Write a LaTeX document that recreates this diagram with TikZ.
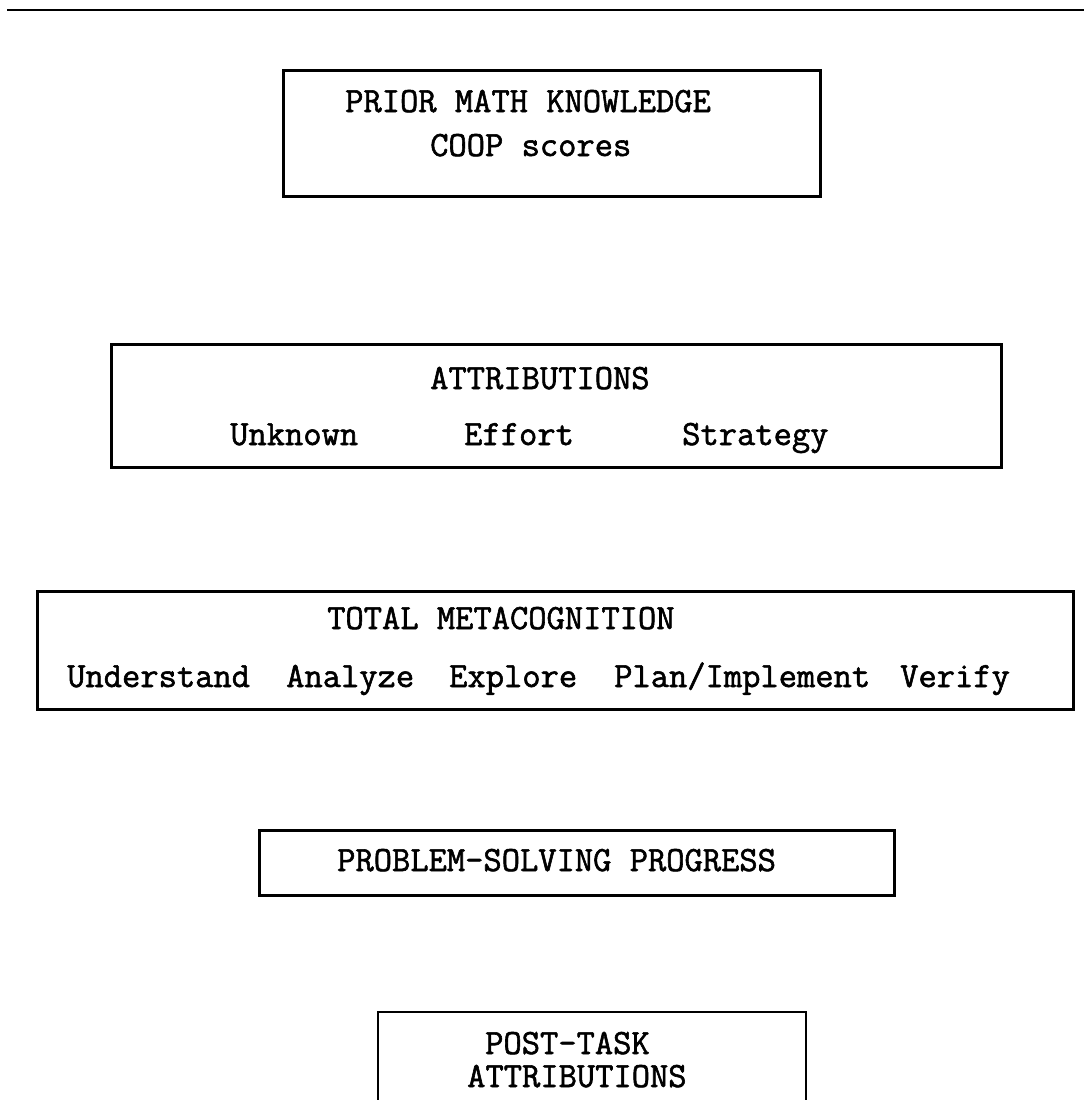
\documentclass[tikz,border=0pt]{standalone}
\usepackage{fontspec}
\newfontfamily\twfont{Latin Modern Mono}[AutoFakeBold=1.6]
\begin{document}
\begin{tikzpicture}[x=1pt,y=-1pt,
  txt/.style={anchor=base west,inner sep=0pt,font=\twfont\bfseries\fontsize{35.5}{37}\selectfont},
  frame/.style={draw=black,line width=2.5pt}]
\useasboundingbox (0,0) rectangle (1084,1100);
% top rule
\coordinate (rl) at (7,10);
\coordinate (rr) at (1084,10);
\draw[frame] (rl) -- (rr);
% box 1
\node[frame,minimum width=537pt,minimum height=126pt,anchor=north west,inner sep=0pt] (b1) at (282,69) {};
\node[txt] (t1a) at (345,112) {PRIOR MATH KNOWLEDGE};
\node[txt] (t1b) at (430,156) {COOP scores};
% box 2
\node[frame,minimum width=890pt,minimum height=123pt,anchor=north west,inner sep=0pt] (b2) at (110,343) {};
\node[txt] (t2a) at (430,389) {ATTRIBUTIONS};
\node[txt] (t2b) at (230,445) {Unknown};
\node[txt] (t2c) at (464,445) {Effort};
\node[txt] (t2d) at (682,445) {Strategy};
% box 3
\node[frame,minimum width=1036pt,minimum height=118pt,anchor=north west,inner sep=0pt] (b3) at (36,590) {};
\node[txt] (t3a) at (327,629) {TOTAL METACOGNITION};
\node[txt] (t3b) at (67,687) {Understand};
\node[txt] (t3c) at (286,687) {Analyze};
\node[txt] (t3d) at (449,687) {Explore};
\node[txt] (t3e) at (614,687) {Plan/Implement};
\node[txt] (t3f) at (900,687) {Verify};
% box 4
\node[frame,minimum width=635pt,minimum height=65pt,anchor=north west,inner sep=0pt] (b4) at (258,829) {};
\node[txt] (t4) at (337,871) {PROBLEM-SOLVING PROGRESS};
% box 5 (cut off at bottom)
\coordinate (b5a) at (378,1100);
\coordinate (b5b) at (378,1012);
\coordinate (b5c) at (806,1012);
\coordinate (b5d) at (806,1100);
\draw[frame] (b5a) -- (b5b) -- (b5c) -- (b5d);
\node[txt] (t5a) at (485,1054) {POST-TASK};
\node[txt] (t5b) at (467,1087) {ATTRIBUTIONS};
\end{tikzpicture}
\end{document}
